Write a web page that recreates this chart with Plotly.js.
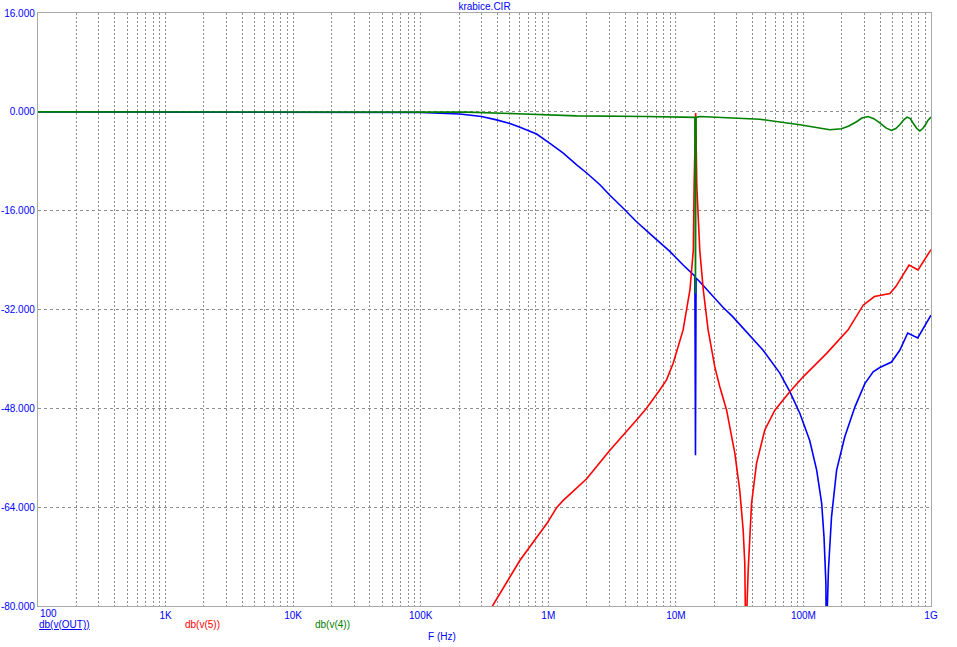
<!DOCTYPE html>
<html>
<head>
<meta charset="utf-8">
<script src="https://cdn.plot.ly/plotly-3.0.1.min.js"></script>
<style>
  html, body { margin: 0; padding: 0; background: #ffffff; }
  #chart { width: 957px; height: 647px; }
</style>
</head>
<body>
<div id="chart"></div>
<script>
// ---- data (frequency in Hz, level in dB) ----
const chartTitle = "krabice.CIR";
const xAxisTitle = "F (Hz)";
const seriesNames = ["db(v(OUT))", "db(v(5))", "db(v(4))"];

const outFreq = [100, 1e3, 1e4, 3e4, 1e5, 2.03e5, 3.0e5, 3.93e5, 5.0e5, 6.0e5, 8.1e5, 1.03e6,
  1.31e6, 1.67e6, 2.0e6, 2.54e6, 3.04e6, 3.87e6, 4.92e6, 6.64e6, 8.97e6, 1.14e7, 1.33e7,
  1.41e7, 1.425e7, 1.44e7, 1.54e7, 2.33e7, 2.80e7, 3.48e7, 4.83e7, 6.53e7, 7.82e7, 9.37e7,
  1.12e8, 1.27e8, 1.39e8, 1.45e8, 1.50e8, 1.51e8, 1.57e8, 1.66e8, 1.82e8, 2.11e8, 2.53e8,
  3.03e8, 3.52e8, 3.97e8, 4.90e8, 5.69e8, 6.57e8, 7.87e8, 1e9];
const outDb = [0, 0, 0, -0.03, -0.1, -0.35, -0.75, -1.3, -1.9, -2.5, -3.6, -5.1,
  -6.7, -8.6, -9.9, -11.8, -13.5, -15.6, -17.8, -20.2, -22.6, -24.8, -26.1,
  -26.6, -55.6, -26.9, -27.5, -31.6, -33.2, -35.3, -38.6, -42.3, -45.3, -48.8,
  -53.2, -58.0, -63.4, -68.8, -76.3, -86.0, -74.2, -65.6, -58.0, -52.6, -47.8,
  -44.0, -42.1, -41.4, -40.5, -38.6, -35.8, -36.6, -32.9];

const v5Freq = [3.40e5, 3.60e5, 6.00e5, 9.71e5, 1.17e6, 1.31e6, 2.0e6, 3.04e6, 4.92e6, 5.89e6,
  7.50e6, 8.45e6, 9.53e6, 1.14e7, 1.29e7, 1.37e7, 1.39e7, 1.43e7, 1.46e7, 1.54e7, 1.64e7,
  1.79e7, 2.02e7, 2.21e7, 2.50e7, 2.90e7, 3.17e7, 3.37e7, 3.47e7, 3.53e7, 3.69e7, 3.92e7,
  4.29e7, 4.98e7, 5.97e7, 7.82e7, 9.95e7, 1.12e8, 1.52e8, 2.24e8, 2.94e8, 3.60e8, 4.76e8,
  5.30e8, 6.73e8, 7.92e8, 1e9];
const v5Db = [-81.5, -80.2, -72.6, -66.7, -64.0, -62.9, -59.4, -54.8, -49.9, -48.0,
  -45.0, -43.4, -40.7, -35.3, -28.8, -22.4, -12.1, -0.2, -12.0, -22.4, -28.8,
  -35.3, -41.3, -44.5, -48.3, -55.3, -61.3, -67.7, -73.1, -86.0, -74.2, -63.4,
  -56.9, -51.5, -48.3, -45.3, -42.9, -41.8, -39.1, -35.3, -31.3, -29.9, -29.4,
  -28.3, -24.8, -25.6, -22.3];

const v4Freq = [100, 1e4, 6.87e4, 2.29e5, 5.65e5, 1.67e6, 5.89e6, 1.37e7, 1.41e7, 1.425e7, 1.44e7,
  1.54e7, 3.17e7, 4.55e7, 9.37e7, 1.61e8, 1.99e8, 2.27e8, 2.61e8, 2.87e8, 3.21e8, 3.56e8, 3.97e8,
  4.43e8, 4.90e8, 5.30e8, 5.69e8, 6.12e8, 6.49e8, 6.88e8, 7.23e8, 7.74e8, 8.16e8, 8.63e8, 9.05e8,
  9.45e8, 1e9];
const v4Db = [0, 0, 0, -0.05, -0.3, -0.65, -0.75, -0.85, -0.9, -29.4, -0.9,
  -0.75, -1.0, -1.2, -2.1, -2.9, -2.75, -2.3, -1.6, -1.0, -0.75, -1.1, -1.8,
  -2.6, -3.0, -2.7, -2.1, -1.3, -0.85, -1.1, -1.8, -2.7, -3.1, -2.7, -2.1,
  -1.4, -0.85];

const decadeValues = [1e2, 1e3, 1e4, 1e5, 1e6, 1e7, 1e8, 1e9];
const decadeLabels = ["100", "1K", "10K", "100K", "1M", "10M", "100M", "1G"];
const yTickValues = [-80, -64, -48, -32, -16, 0, 16];
const yTickLabels = ["-80.000", "-64.000", "-48.000", "-32.000", "-16.000", "0.000", "16.000"];

// ---- axis ticks: decades labelled, 2..9 unlabelled (grid only) ----
const xTickVals = [], xTickText = [];
decadeValues.forEach((d, i) => {
  xTickVals.push(d);
  xTickText.push(i === 0 ? "" : decadeLabels[i]);
  if (i < decadeValues.length - 1) {
    for (let m = 2; m <= 9; m++) { xTickVals.push(d * m); xTickText.push(""); }
  }
});

const FONT = "Liberation Sans, Arial, sans-serif";
const colors = ["#0000ff", "#ff0000", "#008000"];

const traces = [
  { x: outFreq, y: outDb, name: seriesNames[0] },
  { x: v5Freq, y: v5Db, name: seriesNames[1] },
  { x: v4Freq, y: v4Db, name: seriesNames[2] }
].map((t, i) => Object.assign(t, {
  type: "scatter", mode: "lines", line: { color: colors[i], width: 1.6 }, hoverinfo: "x+y+name"
}));

const layout = {
  width: 957, height: 647,
  margin: { l: 38, r: 26, t: 13, b: 41, pad: 0 },
  paper_bgcolor: "#ffffff", plot_bgcolor: "#ffffff",
  showlegend: false,
  font: { family: FONT, size: 10, color: "#0000ff" },
  title: { text: chartTitle, font: { family: FONT, size: 10, color: "#0000ff" },
           x: 0.5, xref: "paper", y: 1 - 6.5 / 647, yref: "container", yanchor: "middle", xanchor: "center" },
  xaxis: {
    type: "log", range: [2, 9], autorange: false,
    tickmode: "array", tickvals: xTickVals, ticktext: xTickText,
    ticks: "", showgrid: true, gridcolor: "#909090", griddash: "2px,2px", gridwidth: 1,
    showline: true, mirror: true, linecolor: "#a8a8a8", linewidth: 1.2,
    zeroline: false, tickfont: { family: FONT, size: 10, color: "#0000ff" }
  },
  yaxis: {
    range: [-80, 16], autorange: false,
    tickmode: "array", tickvals: yTickValues, ticktext: yTickLabels,
    ticks: "", showgrid: true, gridcolor: "#909090", griddash: "3px,3px", gridwidth: 1,
    showline: true, mirror: true, linecolor: "#a8a8a8", linewidth: 1.2,
    zeroline: false, tickfont: { family: FONT, size: 10, color: "#0000ff" }
  },
  annotations: [
    { text: decadeLabels[0], xref: "paper", yref: "paper", x: 0.0005, y: -0.0125, xanchor: "left", yanchor: "middle",
      showarrow: false, font: { family: FONT, size: 10, color: "#0000ff" } },
    { text: '<span style="text-decoration:underline">' + seriesNames[0] + '</span>', xref: "paper", yref: "paper",
      x: -0.001, y: -0.032, xanchor: "left", yanchor: "middle", showarrow: false,
      font: { family: FONT, size: 10, color: colors[0] } },
    { text: seriesNames[1], xref: "paper", yref: "paper", x: 0.162, y: -0.032, xanchor: "left", yanchor: "middle",
      showarrow: false, font: { family: FONT, size: 10, color: colors[1] } },
    { text: seriesNames[2], xref: "paper", yref: "paper", x: 0.3083, y: -0.032, xanchor: "left", yanchor: "middle",
      showarrow: false, font: { family: FONT, size: 10, color: colors[2] } },
    { text: xAxisTitle, xref: "paper", yref: "paper", x: 0.4345, y: -0.0518, xanchor: "left", yanchor: "middle",
      showarrow: false, font: { family: FONT, size: 10, color: "#0000ff" } }
  ]
};

Plotly.newPlot("chart", traces, layout, { displayModeBar: false, staticPlot: true });
</script>
</body>
</html>
